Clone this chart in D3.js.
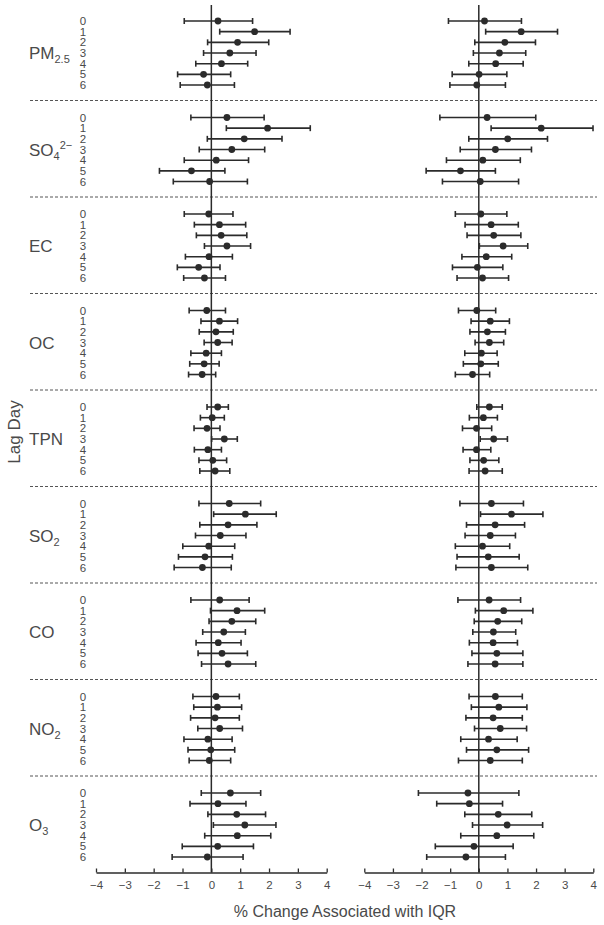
<!DOCTYPE html>
<html>
<head>
<meta charset="utf-8">
<script src="https://cdn.jsdelivr.net/npm/d3@7/dist/d3.min.js"></script>
<style>
  body { margin: 0; background: #fff; }
  svg { display: block; font-family: "Liberation Sans", Arial, sans-serif; }
</style>
</head>
<body>
<svg id="chart" width="604" height="925"></svg>
<script>
// pollutant labels (base text, subscript, superscript)
var pollutants = [
  {base: 'PM', sub: '2.5', sup: ''},
  {base: 'SO', sub: '4', sup: '2\u2212'},
  {base: 'EC', sub: '', sup: ''},
  {base: 'OC', sub: '', sup: ''},
  {base: 'TPN', sub: '', sup: ''},
  {base: 'SO', sub: '2', sup: ''},
  {base: 'CO', sub: '', sup: ''},
  {base: 'NO', sub: '2', sup: ''},
  {base: 'O', sub: '3', sup: ''}
];
var lags = [0, 1, 2, 3, 4, 5, 6];
var xTicks = [-4, -3, -2, -1, 0, 1, 2, 3, 4];

// left panel: estimate, lower, upper per pollutant (lag 0..6)
var leftEst = [
  [0.23, 1.50, 0.91, 0.64, 0.35, -0.27, -0.14],
  [0.54, 1.95, 1.14, 0.71, 0.17, -0.69, -0.06],
  [-0.09, 0.28, 0.34, 0.54, -0.08, -0.44, -0.24],
  [-0.16, 0.28, 0.16, 0.22, -0.18, -0.25, -0.32],
  [0.22, 0.03, -0.15, 0.45, -0.12, 0.05, 0.13],
  [0.62, 1.18, 0.58, 0.31, -0.09, -0.22, -0.31],
  [0.29, 0.89, 0.71, 0.43, 0.24, 0.37, 0.58],
  [0.16, 0.21, 0.13, 0.29, -0.12, -0.02, -0.07],
  [0.66, 0.23, 0.88, 1.16, 0.90, 0.22, -0.14]
];
var leftLow = [
  [-0.94, 0.29, -0.13, -0.27, -0.54, -1.17, -1.08],
  [-0.71, 0.52, -0.14, -0.42, -0.94, -1.80, -1.32],
  [-0.94, -0.59, -0.52, -0.24, -0.90, -1.18, -0.96],
  [-0.77, -0.36, -0.42, -0.25, -0.71, -0.75, -0.79],
  [-0.15, -0.38, -0.60, 0.01, -0.59, -0.43, -0.40],
  [-0.43, 0.08, -0.40, -0.55, -0.99, -1.14, -1.29],
  [-0.71, -0.03, -0.08, -0.30, -0.53, -0.46, -0.34],
  [-0.64, -0.61, -0.72, -0.47, -0.95, -0.81, -0.77],
  [-0.35, -0.74, -0.12, 0.07, -0.23, -1.01, -1.36]
];
var leftHigh = [
  [1.43, 2.73, 1.99, 1.55, 1.26, 0.67, 0.80],
  [1.83, 3.43, 2.45, 1.85, 1.29, 0.47, 1.25],
  [0.75, 1.19, 1.23, 1.36, 0.73, 0.30, 0.49],
  [0.49, 0.91, 0.76, 0.72, 0.35, 0.27, 0.15],
  [0.59, 0.45, 0.30, 0.90, 0.35, 0.53, 0.64],
  [1.71, 2.25, 1.58, 1.20, 0.81, 0.73, 0.69],
  [1.31, 1.85, 1.54, 1.18, 1.03, 1.25, 1.54],
  [0.97, 1.05, 0.97, 1.08, 0.72, 0.81, 0.67],
  [1.71, 1.20, 1.88, 2.24, 2.06, 1.46, 1.10]
];

// right panel
var rightEst = [
  [0.20, 1.48, 0.91, 0.72, 0.59, 0.01, -0.07],
  [0.29, 2.18, 1.01, 0.58, 0.14, -0.64, 0.05],
  [0.07, 0.43, 0.52, 0.85, 0.26, -0.05, 0.13],
  [-0.07, 0.40, 0.30, 0.37, 0.09, 0.07, -0.22],
  [0.37, 0.16, -0.08, 0.52, -0.08, 0.17, 0.22],
  [0.44, 1.14, 0.57, 0.40, 0.13, 0.33, 0.44],
  [0.36, 0.87, 0.66, 0.51, 0.50, 0.63, 0.57],
  [0.58, 0.70, 0.50, 0.75, 0.34, 0.63, 0.40],
  [-0.38, -0.33, 0.68, 0.99, 0.63, -0.17, -0.45]
];
var rightLow = [
  [-1.06, 0.24, -0.14, -0.19, -0.35, -0.93, -1.01],
  [-1.36, 0.43, -0.35, -0.65, -1.13, -1.84, -1.27],
  [-0.82, -0.48, -0.41, 0.02, -0.59, -0.92, -0.76],
  [-0.71, -0.27, -0.31, -0.13, -0.49, -0.54, -0.82],
  [-0.07, -0.33, -0.57, 0.05, -0.55, -0.31, -0.34],
  [-0.66, 0.06, -0.43, -0.48, -0.82, -0.76, -0.80],
  [-0.73, -0.12, -0.16, -0.21, -0.33, -0.24, -0.38],
  [-0.34, -0.26, -0.45, -0.15, -0.63, -0.43, -0.71],
  [-2.11, -1.47, -0.49, -0.22, -0.63, -1.52, -1.82]
];
var rightHigh = [
  [1.49, 2.75, 1.98, 1.64, 1.55, 0.98, 0.93],
  [1.99, 3.99, 2.40, 1.84, 1.45, 0.58, 1.39],
  [0.98, 1.38, 1.47, 1.71, 1.15, 0.84, 1.04],
  [0.59, 1.07, 0.93, 0.87, 0.64, 0.68, 0.38],
  [0.82, 0.65, 0.45, 1.00, 0.42, 0.70, 0.82],
  [1.56, 2.24, 1.60, 1.28, 1.08, 1.41, 1.71],
  [1.46, 1.89, 1.50, 1.29, 1.35, 1.54, 1.54],
  [1.52, 1.68, 1.52, 1.67, 1.34, 1.74, 1.52],
  [1.40, 0.83, 1.85, 2.23, 1.92, 1.20, 0.93]
];

var ink = '#2b2b2b';
var textCol = '#4a4a4a';
var svg = d3.select('#chart');

var axisY = 872.5;
var gy = d3.scaleLinear().domain([0, pollutants.length]).range([4, axisY]);
var rowStep = 10.67;
function rowY(g, i) { return gy(g) + 17 + i * rowStep; }

var panels = [
  {x: d3.scaleLinear().domain([-4, 4]).range([96, 326.7]), est: leftEst, lo: leftLow, hi: leftHigh},
  {x: d3.scaleLinear().domain([-4, 4]).range([364.3, 593.3]), est: rightEst, lo: rightLow, hi: rightHigh}
];

// dashed group separators
svg.append('g').selectAll('line')
  .data(d3.range(1, pollutants.length))
  .enter().append('line')
    .attr('x1', 30).attr('x2', 597)
    .attr('y1', function(d) { return gy(d); })
    .attr('y2', function(d) { return gy(d); })
    .attr('stroke', '#555')
    .attr('stroke-width', 1)
    .attr('stroke-dasharray', '3,2');

// pollutant labels
var lab = svg.append('g').selectAll('text')
  .data(pollutants)
  .enter().append('text')
    .attr('x', 29)
    .attr('y', function(d, g) { return rowY(g, 3) + 6; })
    .attr('font-size', 17)
    .attr('fill', textCol);
lab.append('tspan').text(function(d) { return d.base; });
lab.filter(function(d) { return d.sub; })
  .append('tspan')
    .attr('font-size', 11)
    .attr('dy', 4)
    .text(function(d) { return d.sub; });
lab.filter(function(d) { return d.sup; })
  .append('tspan')
    .attr('font-size', 11)
    .attr('dy', -11)
    .text(function(d) { return d.sup; });

// lag day numbers
pollutants.forEach(function(p, g) {
  svg.append('g').selectAll('text')
    .data(lags)
    .enter().append('text')
      .attr('x', 83)
      .attr('y', function(d, i) { return rowY(g, i) + 4; })
      .attr('text-anchor', 'middle')
      .attr('font-size', 11.5)
      .attr('fill', textCol)
      .text(function(d) { return d; });
});

// y title
svg.append('text')
  .attr('transform', 'translate(20,432) rotate(-90)')
  .attr('text-anchor', 'middle')
  .attr('font-size', 17)
  .attr('fill', textCol)
  .text('Lag Day');

panels.forEach(function(pn) {
  var x = pn.x;
  var g = svg.append('g');

  // zero reference line
  g.append('line')
    .attr('x1', x(0)).attr('x2', x(0))
    .attr('y1', 5).attr('y2', axisY)
    .attr('stroke', ink).attr('stroke-width', 1.5);

  pn.est.forEach(function(row, gi) {
    var rows = row.map(function(v, i) {
      return {est: v, lo: pn.lo[gi][i], hi: pn.hi[gi][i], y: rowY(gi, i)};
    });
    var bar = g.append('g').selectAll('g')
      .data(rows)
      .enter().append('g');
    bar.append('line')
      .attr('x1', function(d) { return x(d.lo); })
      .attr('x2', function(d) { return x(d.hi); })
      .attr('y1', function(d) { return d.y; })
      .attr('y2', function(d) { return d.y; })
      .attr('stroke', ink).attr('stroke-width', 1.6);
    ['lo', 'hi'].forEach(function(k) {
      bar.append('line')
        .attr('x1', function(d) { return x(d[k]); })
        .attr('x2', function(d) { return x(d[k]); })
        .attr('y1', function(d) { return d.y - 3; })
        .attr('y2', function(d) { return d.y + 3; })
        .attr('stroke', ink).attr('stroke-width', 1.6);
    });
    bar.append('circle')
      .attr('cx', function(d) { return x(d.est); })
      .attr('cy', function(d) { return d.y; })
      .attr('r', 3.4)
      .attr('fill', ink);
  });

  // x axis
  var ax = g.append('g')
    .attr('transform', 'translate(0,' + axisY + ')')
    .call(d3.axisBottom(x).tickValues(xTicks).tickSizeInner(-4).tickSizeOuter(0)
      .tickPadding(8)
      .tickFormat(function(d) { return d < 0 ? '\u2212' + Math.abs(d) : d; }));
  ax.select('.domain').attr('stroke', ink).attr('stroke-width', 1.5);
  ax.selectAll('.tick line').attr('stroke', ink).attr('stroke-width', 1.3);
  ax.selectAll('.tick text')
    .attr('font-size', 11.5)
    .attr('font-family', '"Liberation Sans", Arial, sans-serif')
    .attr('fill', textCol);
});

// x title
svg.append('text')
  .attr('x', 345)
  .attr('y', 917)
  .attr('text-anchor', 'middle')
  .attr('font-size', 16)
  .attr('fill', textCol)
  .text('% Change Associated with IQR');
</script>
</body>
</html>
